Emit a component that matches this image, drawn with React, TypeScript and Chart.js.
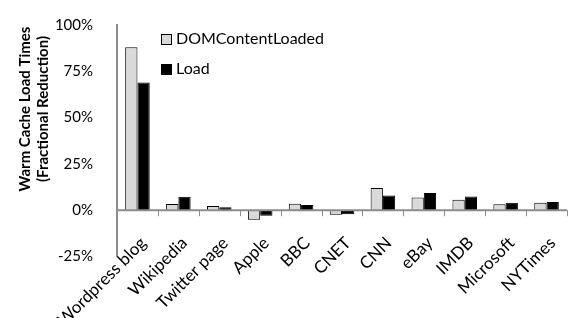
import React, { useEffect, useRef } from "react";
import { Chart, registerables } from "chart.js";

Chart.register(...registerables);

const categories = [
  "Wordpress blog",
  "Wikipedia",
  "Twitter page",
  "Apple",
  "BBC",
  "CNET",
  "CNN",
  "eBay",
  "IMDB",
  "Microsoft",
  "NYTimes",
];
const domContentLoaded = [88, 3.3, 2.3, -5.2, 3.5, -2.5, 12, 6.9, 5.7, 3.2, 4];
const load = [69, 7.3, 1.6, -3, 2.8, -2.2, 7.9, 9.3, 7.4, 4, 4.4];
const seriesNames = ["DOMContentLoaded", "Load"];
const yMin = -25;
const yMax = 100;
const yStep = 25;
const yTitle = ["Warm Cache Load Times", "(Fractional Reduction)"];

const FONT = "Lato, 'Liberation Sans', sans-serif";
const AXIS = "#8c8c8c";

const zeroLinePlugin = {
  id: "zeroLine",
  afterDatasetsDraw(chart: any) {
    const { ctx, chartArea } = chart;
    const y = chart.scales.y.getPixelForValue(0);
    const n = chart.data.labels.length;
    const w = (chartArea.right - chartArea.left) / n;
    ctx.save();
    ctx.strokeStyle = AXIS;
    ctx.lineWidth = 2;
    ctx.beginPath();
    ctx.moveTo(chartArea.left, y);
    ctx.lineTo(chartArea.right, y);
    ctx.stroke();
    ctx.lineWidth = 1;
    ctx.beginPath();
    for (let i = 1; i <= n; i++) {
      const x = Math.round(chartArea.left + i * w) + 0.5;
      ctx.moveTo(x, y);
      ctx.lineTo(x, y + 6);
    }
    ctx.stroke();
    ctx.restore();
  },
};

const xLabelPlugin = {
  id: "xLabels",
  afterDraw(chart: any) {
    const { ctx } = chart;
    const xs = chart.scales.x;
    const y0 = chart.scales.y.getPixelForValue(0) + 30;
    ctx.save();
    ctx.font = `17px ${FONT}`;
    ctx.fillStyle = "#000";
    ctx.textAlign = "right";
    ctx.textBaseline = "middle";
    chart.data.labels.forEach((lab: string, i: number) => {
      const x = xs.getPixelForTick(i) + 6;
      ctx.save();
      ctx.translate(x, y0);
      ctx.rotate(-Math.PI / 4);
      ctx.fillText(lab, 0, 0);
      ctx.restore();
    });
    ctx.restore();
  },
};

const legendPlugin = {
  id: "customLegend",
  afterDraw(chart: any) {
    const { ctx, chartArea } = chart;
    const x0 = chartArea.left + 44;
    const y0 = chartArea.top + 9;
    ctx.save();
    ctx.font = `16px ${FONT}`;
    ctx.textBaseline = "middle";
    ctx.textAlign = "left";
    chart.data.datasets.forEach((ds: any, i: number) => {
      const y = y0 + i * 30;
      ctx.fillStyle = ds.backgroundColor;
      ctx.fillRect(x0 + 0.5, y + 0.5, 10, 10);
      ctx.strokeStyle = "#000";
      ctx.lineWidth = 1;
      ctx.strokeRect(x0 + 0.5, y + 0.5, 10, 10);
      ctx.fillStyle = "#000";
      ctx.fillText(ds.label, x0 + 15, y + 5);
    });
    ctx.restore();
  },
};

const yTitlePlugin = {
  id: "yTitle",
  afterDraw(chart: any) {
    const { ctx } = chart;
    ctx.save();
    ctx.font = `bold 15px ${FONT}`;
    ctx.fillStyle = "#000";
    ctx.textAlign = "center";
    ctx.textBaseline = "middle";
    ctx.translate(34, 109);
    ctx.rotate(-Math.PI / 2);
    ctx.fillText(yTitle[0], 0, -9);
    ctx.fillText(yTitle[1], 0, 9);
    ctx.restore();
  },
};

export default function App() {
  const ref = useRef<HTMLCanvasElement>(null);

  useEffect(() => {
    document.body.style.margin = "0";
    const chart = new Chart(ref.current as HTMLCanvasElement, {
      type: "bar",
      data: {
        labels: categories,
        datasets: [
          {
            label: seriesNames[0],
            data: domContentLoaded,
            backgroundColor: "#d9d9d9",
            borderColor: "#000",
            borderWidth: 1,
            categoryPercentage: 0.6,
            barPercentage: 1,
          },
          {
            label: seriesNames[1],
            data: load,
            backgroundColor: "#000",
            borderColor: "#000",
            borderWidth: 1,
            categoryPercentage: 0.6,
            barPercentage: 1,
          },
        ],
      },
      options: {
        animation: false,
        responsive: false,
        layout: { padding: { top: 13, right: 14, left: 0, bottom: 0 } },
        plugins: {
          legend: { display: false },
          tooltip: { enabled: false },
        },
        scales: {
          x: {
            grid: { display: false },
            border: { display: false },
            ticks: { display: false },
            afterFit: (scale: any) => {
              scale.height = 61.5;
            },
          },
          y: {
            min: yMin,
            max: yMax,
            grid: { display: false },
            border: { display: true, color: AXIS, width: 2 },
            ticks: {
              stepSize: yStep,
              padding: 16,
              color: "#000",
              font: { family: FONT, size: 15 },
              callback: (v: any) => `${v}%`,
            },
            afterFit: (scale: any) => {
              scale.width = 117;
            },
          },
        },
      },
      plugins: [zeroLinePlugin, xLabelPlugin, legendPlugin, yTitlePlugin],
    });
    return () => chart.destroy();
  }, []);

  return (
    <div style={{ width: 581, height: 318 }}>
      <canvas ref={ref} width={581} height={318} style={{ display: "block" }} />
    </div>
  );
}
